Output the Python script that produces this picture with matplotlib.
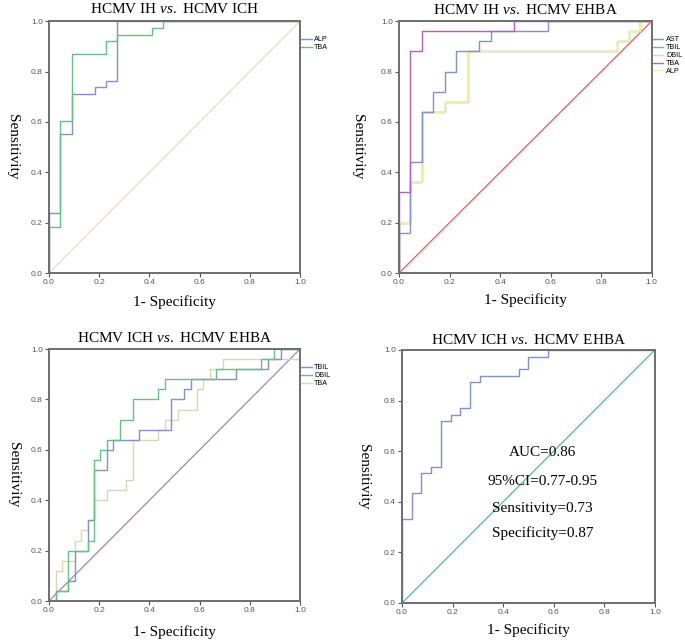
"""ROC curves: HCMV IH / ICH / EHBA, four panels (SPSS-style)."""
import matplotlib
matplotlib.use("Agg")
import matplotlib.pyplot as plt

plt.rcParams.update({
    "font.family": "Liberation Serif",
    "mathtext.fontset": "custom",
    "mathtext.rm": "Liberation Serif",
    "mathtext.it": "Liberation Serif:italic",
    "axes.linewidth": 1.4,
    "axes.edgecolor": "#6e6e6e",
    "xtick.direction": "out",
    "ytick.direction": "out",
    "xtick.major.size": 3,
    "ytick.major.size": 3,
    "xtick.color": "#555555",
    "ytick.color": "#555555",
})

BLUE = "#8191cc"
GREEN = "#62c283"
TAN = "#dcd6b4"
PURPLE = "#b45fb8"
YELLOW = "#f3f19c"

TICKS = [0.0, 0.2, 0.4, 0.6, 0.8, 1.0]
TICK_LABELS = ["0.0", "0.2", "0.4", "0.6", "0.8", "1.0"]

# --- panel 1: HCMV IH vs HCMV ICH
p1_alp_fpr = [0, 0, 0.045, 0.045, 0.091, 0.091, 0.182, 0.182, 0.227, 0.227, 0.273, 0.273, 1.0]
p1_alp_tpr = [0, 0.237, 0.237, 0.553, 0.553, 0.711, 0.711, 0.737, 0.737, 0.763, 0.763, 1.0, 1.0]
p1_tba_fpr = [0, 0, 0.045, 0.045, 0.091, 0.091, 0.227, 0.227, 0.273, 0.273, 0.409, 0.409, 0.455, 0.455, 1.0]
p1_tba_tpr = [0, 0.184, 0.184, 0.605, 0.605, 0.868, 0.868, 0.921, 0.921, 0.947, 0.947, 0.974, 0.974, 1.0, 1.0]

# --- panel 2: HCMV IH vs HCMV EHBA
p2_ast_fpr = [0, 0, 0.045, 0.045, 0.091, 0.091, 0.136, 0.136, 0.182, 0.182, 0.227, 0.227,
              0.318, 0.318, 0.364, 0.364, 0.591, 0.591, 1.0]
p2_ast_tpr = [0, 0.16, 0.16, 0.44, 0.44, 0.64, 0.64, 0.72, 0.72, 0.80, 0.80, 0.88,
              0.88, 0.92, 0.92, 0.96, 0.96, 1.0, 1.0]
p2_alp_fpr = [0, 0, 0.045, 0.045, 0.091, 0.091, 0.182, 0.182, 0.273, 0.273, 0.864, 0.864,
              0.909, 0.909, 0.955, 0.955, 1.0]
p2_alp_tpr = [0, 0.20, 0.20, 0.36, 0.36, 0.64, 0.64, 0.68, 0.68, 0.88, 0.88, 0.92,
              0.92, 0.96, 0.96, 1.0, 1.0]
# TBIL / DBIL are hidden under ALP in the original
p2_tbil_fpr = list(p2_alp_fpr)
p2_tbil_tpr = list(p2_alp_tpr)
p2_dbil_fpr = list(p2_alp_fpr)
p2_dbil_tpr = list(p2_alp_tpr)
p2_tba_fpr = [0, 0, 0.045, 0.045, 0.091, 0.091, 0.455, 0.455, 1.0]
p2_tba_tpr = [0, 0.32, 0.32, 0.88, 0.88, 0.96, 0.96, 1.0, 1.0]

# --- panel 3: HCMV ICH vs HCMV EHBA
p3_tbil_fpr = [0, 0.026, 0.026, 0.077, 0.077, 0.103, 0.103, 0.154, 0.154, 0.179, 0.179, 0.231,
               0.231, 0.256, 0.256, 0.359, 0.359, 0.487, 0.487, 0.538, 0.538, 0.564, 0.564,
               0.744, 0.744, 0.872, 0.872, 0.923, 0.923, 1.0]
p3_tbil_tpr = [0, 0, 0.04, 0.04, 0.08, 0.08, 0.20, 0.20, 0.32, 0.32, 0.52, 0.52,
               0.60, 0.60, 0.64, 0.64, 0.68, 0.68, 0.80, 0.80, 0.84, 0.84, 0.88,
               0.88, 0.92, 0.92, 0.96, 0.96, 1.0, 1.0]
p3_dbil_fpr = [0, 0.026, 0.026, 0.077, 0.077, 0.154, 0.154, 0.179, 0.179, 0.205, 0.205, 0.231,
               0.231, 0.282, 0.282, 0.333, 0.333, 0.436, 0.436, 0.462, 0.462, 0.667, 0.667,
               0.846, 0.846, 0.897, 0.897, 1.0]
p3_dbil_tpr = [0, 0, 0.04, 0.04, 0.20, 0.20, 0.24, 0.24, 0.56, 0.56, 0.60, 0.60,
               0.64, 0.64, 0.72, 0.72, 0.80, 0.80, 0.84, 0.84, 0.88, 0.88, 0.92,
               0.92, 0.96, 0.96, 1.0, 1.0]
p3_tba_fpr = [0, 0.026, 0.026, 0.051, 0.051, 0.103, 0.103, 0.128, 0.128, 0.154, 0.154, 0.179,
              0.179, 0.231, 0.231, 0.308, 0.308, 0.333, 0.333, 0.436, 0.436, 0.462, 0.462,
              0.513, 0.513, 0.590, 0.590, 0.615, 0.615, 0.641, 0.641, 0.692, 0.692, 1.0, 1.0]
p3_tba_tpr = [0, 0, 0.12, 0.12, 0.16, 0.16, 0.24, 0.24, 0.28, 0.28, 0.32, 0.32,
              0.40, 0.40, 0.44, 0.44, 0.48, 0.48, 0.64, 0.64, 0.68, 0.68, 0.72,
              0.72, 0.76, 0.76, 0.84, 0.84, 0.88, 0.88, 0.92, 0.92, 0.96, 0.96, 1.0]

# --- panel 4: HCMV ICH vs HCMV EHBA (combined)
p4_fpr = [0, 0, 0.038, 0.038, 0.077, 0.077, 0.115, 0.115, 0.154, 0.154, 0.192, 0.192, 0.231,
          0.231, 0.269, 0.269, 0.308, 0.308, 0.462, 0.462, 0.5, 0.5, 0.577, 0.577, 1.0]
p4_tpr = [0, 0.333, 0.333, 0.436, 0.436, 0.513, 0.513, 0.538, 0.538, 0.718, 0.718, 0.744, 0.744,
          0.769, 0.769, 0.872, 0.872, 0.897, 0.897, 0.923, 0.923, 0.974, 0.974, 1.0, 1.0]
p4_stats = ["AUC=0.86", "95%CI=0.77-0.95", "Sensitivity=0.73", "Specificity=0.87"]

LABEL_SIZE = 11
LEG_PROP = {"family": "Liberation Sans", "size": 5.2}


def style_axes(ax, title, title_y, ylab_x, xlab_y):
    ax.set_xlim(0, 1)
    ax.set_ylim(0, 1)
    ax.set_xticks(TICKS)
    ax.set_yticks(TICKS)
    ax.set_xticklabels(TICK_LABELS, family="Liberation Sans", fontsize=6)
    ax.set_yticklabels(TICK_LABELS, family="Liberation Sans", fontsize=6)
    ax.tick_params(width=0.8, pad=1.5)
    ax.text(0.5, title_y, title, transform=ax.transAxes, ha="center", va="center",
            fontsize=LABEL_SIZE)
    ax.set_xlabel("1- Specificity", fontsize=LABEL_SIZE, va="center")
    ax.set_ylabel("Sensitivity", fontsize=LABEL_SIZE, rotation=270, va="center")
    ax.xaxis.set_label_coords(0.5, xlab_y)
    ax.yaxis.set_label_coords(ylab_x, 0.5)


def side_legend(ax, names):
    handles, labels = ax.get_legend_handles_labels()
    order = [labels.index(n) for n in names]
    ax.legend([handles[i] for i in order], [labels[i] for i in order],
              loc="upper left", bbox_to_anchor=(1.006, 0.94), frameon=False,
              prop=LEG_PROP, handlelength=1.4, handletextpad=0.35,
              labelspacing=0.12, borderaxespad=0, borderpad=0)


fig = plt.figure(figsize=(6.85, 6.41), dpi=100)

# panel 1
ax = fig.add_axes([0.0715, 0.574, 0.3664, 0.393])
ax.plot([0, 1], [0, 1], color="#e8dec6", lw=0.9)
ax.plot(p1_alp_fpr, p1_alp_tpr, color=BLUE, lw=1.0, label="ALP")
ax.plot(p1_tba_fpr, p1_tba_tpr, color=GREEN, lw=1.0, label="TBA")
style_axes(ax, "HCMV IH $\\mathit{vs.}$ HCMV ICH", 1.05, -0.147, -0.115)
side_legend(ax, ["ALP", "TBA"])

# panel 2
ax = fig.add_axes([0.5825, 0.574, 0.369, 0.393])
ax.plot([0, 1], [0, 1], color="#ee5a5a", lw=0.9)
ax.plot(p2_tbil_fpr, p2_tbil_tpr, color=GREEN, lw=1.0, label="TBIL")
ax.plot(p2_dbil_fpr, p2_dbil_tpr, color=TAN, lw=1.0, label="DBIL")
ax.plot(p2_alp_fpr, p2_alp_tpr, color=YELLOW, lw=1.0, label="ALP")
ax.plot(p2_ast_fpr, p2_ast_tpr, color=BLUE, lw=1.0, label="AST")
ax.plot(p2_tba_fpr, p2_tba_tpr, color=PURPLE, lw=1.0, label="TBA")
side_legend(ax, ["AST", "TBIL", "DBIL", "TBA", "ALP"])
style_axes(ax, "HCMV IH $\\mathit{vs.}$ HCMV EHBA", 1.045, -0.166, -0.107)

# panel 3
ax = fig.add_axes([0.0715, 0.0624, 0.3664, 0.393])
ax.plot([0, 1], [0, 1], color="#a383b4", lw=0.9)
ax.plot(p3_tba_fpr, p3_tba_tpr, color=TAN, lw=1.0, label="TBA")
ax.plot(p3_tbil_fpr, p3_tbil_tpr, color=BLUE, lw=1.0, label="TBIL")
ax.plot(p3_dbil_fpr, p3_dbil_tpr, color=GREEN, lw=1.0, label="DBIL")
side_legend(ax, ["TBIL", "DBIL", "TBA"])
style_axes(ax, "HCMV ICH $\\mathit{vs.}$ HCMV EHBA", 1.045, -0.143, -0.123)

# panel 4
ax = fig.add_axes([0.5869, 0.0593, 0.369, 0.3947])
ax.plot([0, 1], [0, 1], color="#4cc283", lw=0.9)
ax.plot(p4_fpr, p4_tpr, color=BLUE, lw=1.0)
for txt, yy in zip(p4_stats, [0.593, 0.482, 0.374, 0.275]):
    ax.text(0.555, yy, txt, transform=ax.transAxes, ha="center", va="center",
            fontsize=11)
style_axes(ax, "HCMV ICH $\\mathit{vs.}$ HCMV EHBA", 1.04, -0.154, -0.107)

fig.savefig("out.png", dpi=100, facecolor="white")
